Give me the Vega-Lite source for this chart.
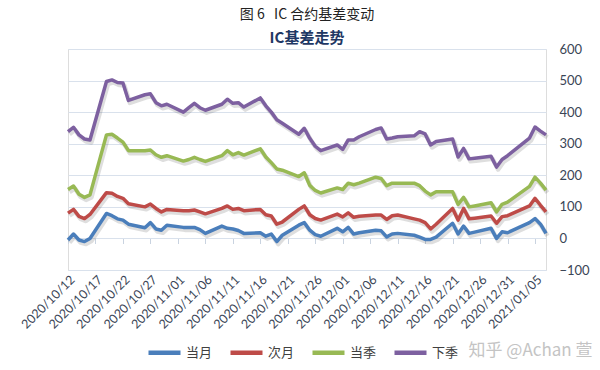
{
  "$schema": "https://vega.github.io/schema/vega-lite/v6.json",
  "width": 478,
  "height": 221,
  "autosize": {"type": "none"},
  "padding": {"left": 68, "top": 49, "right": 54, "bottom": 100},
  "background": "white",
  "title": {
    "text": "图 6\u00a0\u00a0 IC 合约基差变动",
    "subtitle": "IC基差走势",
    "anchor": "middle",
    "frame": "group",
    "offset": -3,
    "font": "Noto Sans CJK SC",
    "fontSize": 14,
    "fontWeight": "normal",
    "color": "#222222",
    "subtitleFont": "Noto Sans CJK SC",
    "subtitleFontSize": 15,
    "subtitleFontWeight": "bold",
    "subtitleColor": "#1F3864",
    "subtitlePadding": 9
  },
  "data": {
    "format": {"parse": {"date": "date:'%Y/%m/%d'"}},
    "values": [
      {"date": "2020/10/12", "当月": -5, "次月": 80, "当季": 155, "下季": 338},
      {"date": "2020/10/13", "当月": 14, "次月": 92, "当季": 166, "下季": 352},
      {"date": "2020/10/14", "当月": -5, "次月": 70, "当季": 140, "下季": 328},
      {"date": "2020/10/15", "当月": -10, "次月": 63, "当季": 130, "下季": 315},
      {"date": "2020/10/16", "当月": 0, "次月": 76, "当季": 138, "下季": 312},
      {"date": "2020/10/19", "当月": 79, "次月": 145, "当季": 328, "下季": 497},
      {"date": "2020/10/20", "当月": 72, "次月": 143, "当季": 330, "下季": 502},
      {"date": "2020/10/21", "当月": 62, "次月": 133, "当季": 318, "下季": 494},
      {"date": "2020/10/22", "当月": 58, "次月": 127, "当季": 305, "下季": 492},
      {"date": "2020/10/23", "当月": 45, "次月": 110, "当季": 278, "下季": 437},
      {"date": "2020/10/26", "当月": 34, "次月": 100, "当季": 278, "下季": 455},
      {"date": "2020/10/27", "当月": 50, "次月": 109, "当季": 280, "下季": 458},
      {"date": "2020/10/28", "当月": 30, "次月": 95, "当季": 265, "下季": 430},
      {"date": "2020/10/29", "当月": 26, "次月": 84, "当季": 257, "下季": 420},
      {"date": "2020/10/30", "当月": 42, "次月": 92, "当季": 262, "下季": 425},
      {"date": "2020/11/02", "当月": 35, "次月": 88, "当季": 245, "下季": 400},
      {"date": "2020/11/03", "当月": 35, "次月": 88, "当季": 250, "下季": 414},
      {"date": "2020/11/04", "当月": 35, "次月": 90, "当季": 257, "下季": 428},
      {"date": "2020/11/05", "当月": 28, "次月": 84, "当季": 250, "下季": 414},
      {"date": "2020/11/06", "当月": 16, "次月": 78, "当季": 244, "下季": 406},
      {"date": "2020/11/09", "当月": 39, "次月": 95, "当季": 262, "下季": 425},
      {"date": "2020/11/10", "当月": 32, "次月": 103, "当季": 278, "下季": 441},
      {"date": "2020/11/11", "当月": 30, "次月": 92, "当季": 265, "下季": 428},
      {"date": "2020/11/12", "当月": 25, "次月": 95, "当季": 272, "下季": 430},
      {"date": "2020/11/13", "当月": 16, "次月": 88, "当季": 264, "下季": 416},
      {"date": "2020/11/16", "当月": 18, "次月": 92, "当季": 284, "下季": 445},
      {"date": "2020/11/17", "当月": 7, "次月": 75, "当季": 258, "下季": 420},
      {"date": "2020/11/18", "当月": 14, "次月": 71, "当季": 240, "下季": 400},
      {"date": "2020/11/19", "当月": -10, "次月": 45, "当季": 220, "下季": 376},
      {"date": "2020/11/20", "当月": 10, "次月": 52, "当季": 216, "下季": 365},
      {"date": "2020/11/23", "当月": 42, "次月": 92, "当季": 196, "下季": 330},
      {"date": "2020/11/24", "当月": 50, "次月": 103, "当季": 208, "下季": 349},
      {"date": "2020/11/25", "当月": 26, "次月": 75, "当季": 168, "下季": 317},
      {"date": "2020/11/26", "当月": 12, "次月": 63, "当季": 152, "下季": 292},
      {"date": "2020/11/27", "当月": 7, "次月": 58, "当季": 144, "下季": 278},
      {"date": "2020/11/30", "当月": 32, "次月": 77, "当季": 160, "下季": 296},
      {"date": "2020/12/01", "当月": 21, "次月": 68, "当季": 155, "下季": 282},
      {"date": "2020/12/02", "当月": 35, "次月": 81, "当季": 175, "下季": 312},
      {"date": "2020/12/03", "当月": 14, "次月": 67, "当季": 170, "下季": 312},
      {"date": "2020/12/04", "当月": 18, "次月": 70, "当季": 175, "下季": 322},
      {"date": "2020/12/07", "当月": 26, "次月": 74, "当季": 194, "下季": 345},
      {"date": "2020/12/08", "当月": 24, "次月": 74, "当季": 190, "下季": 350},
      {"date": "2020/12/09", "当月": 5, "次月": 60, "当季": 167, "下季": 315},
      {"date": "2020/12/10", "当月": 14, "次月": 72, "当季": 175, "下季": 318},
      {"date": "2020/12/11", "当月": 16, "次月": 74, "当季": 175, "下季": 322},
      {"date": "2020/12/14", "当月": 10, "次月": 62, "当季": 175, "下季": 325},
      {"date": "2020/12/15", "当月": 4, "次月": 58, "当季": 167, "下季": 338},
      {"date": "2020/12/16", "当月": -3, "次月": 50, "当季": 150, "下季": 331},
      {"date": "2020/12/17", "当月": -3, "次月": 30, "当季": 138, "下季": 296},
      {"date": "2020/12/18", "当月": 4, "次月": 45, "当季": 148, "下季": 307},
      {"date": "2020/12/21", "当月": 48, "次月": 95, "当季": 148, "下季": 315},
      {"date": "2020/12/22", "当月": 14, "次月": 58, "当季": 108, "下季": 258},
      {"date": "2020/12/23", "当月": 39, "次月": 95, "当季": 130, "下季": 285},
      {"date": "2020/12/24", "当月": 16, "次月": 62, "当季": 100, "下季": 252},
      {"date": "2020/12/25", "当月": 20, "次月": 64, "当季": 103, "下季": 254},
      {"date": "2020/12/28", "当月": 32, "次月": 71, "当季": 113, "下季": 260},
      {"date": "2020/12/29", "当月": 0, "次月": 48, "当季": 84, "下季": 226},
      {"date": "2020/12/30", "当月": 21, "次月": 69, "当季": 108, "下季": 250},
      {"date": "2020/12/31", "当月": 18, "次月": 72, "当季": 115, "下季": 262},
      {"date": "2021/01/04", "当月": 50, "次月": 103, "当季": 165, "下季": 318},
      {"date": "2021/01/05", "当月": 63, "次月": 127, "当季": 194, "下季": 353},
      {"date": "2021/01/06", "当月": 45, "次月": 105, "当季": 175, "下季": 340},
      {"date": "2021/01/07", "当月": 16, "次月": 84, "当季": 153, "下季": 328}
    ]
  },
  "transform": [{"fold": ["当月", "次月", "当季", "下季"], "as": ["series", "value"]}],
  "encoding": {
    "y": {
      "field": "value",
      "type": "quantitative",
      "scale": {"domain": [-100, 600], "nice": false, "zero": false},
      "axis": {
        "orient": "right",
        "values": [-100, 0, 100, 200, 300, 400, 500, 600],
        "grid": true,
        "gridColor": "#D9E1EC",
        "gridWidth": 1,
        "ticks": false,
        "domain": false,
        "labelAlign": "left",
        "labelPadding": 13,
        "labelFont": "Lato",
        "labelFontSize": 13,
        "labelColor": "#3A4556",
        "title": null
      }
    }
  },
  "layer": [
    {
      "mark": {"type": "line", "stroke": "#000000", "strokeOpacity": 0.13, "strokeWidth": 4.5, "xOffset": 1.5, "yOffset": 2.5, "strokeJoin": "round"},
      "encoding": {
        "x": {
          "field": "date",
          "type": "temporal",
          "scale": {"domain": [{"year": 2020, "month": 10, "date": 12}, {"year": 2021, "month": 1, "date": 7}]},
          "axis": {
            "orient": "bottom",
            "offset": -31.5,
            "labels": false,
            "domain": false,
            "grid": false,
            "ticks": true,
            "tickSize": 5,
            "tickColor": "#C9D3E0",
            "title": null,
            "values": [
              {"year": 2020, "month": 10, "date": 12}, {"year": 2020, "month": 10, "date": 17},
              {"year": 2020, "month": 10, "date": 22}, {"year": 2020, "month": 10, "date": 27},
              {"year": 2020, "month": 11, "date": 1}, {"year": 2020, "month": 11, "date": 6},
              {"year": 2020, "month": 11, "date": 11}, {"year": 2020, "month": 11, "date": 16},
              {"year": 2020, "month": 11, "date": 21}, {"year": 2020, "month": 11, "date": 26},
              {"year": 2020, "month": 12, "date": 1}, {"year": 2020, "month": 12, "date": 6},
              {"year": 2020, "month": 12, "date": 11}, {"year": 2020, "month": 12, "date": 16},
              {"year": 2020, "month": 12, "date": 21}, {"year": 2020, "month": 12, "date": 26},
              {"year": 2020, "month": 12, "date": 31}, {"year": 2021, "month": 1, "date": 5}
            ]
          }
        },
        "detail": {"field": "series"}
      }
    },
    {
      "mark": {"type": "line", "strokeWidth": 3.5, "strokeJoin": "round"},
      "encoding": {
        "x": {
          "field": "date",
          "type": "temporal",
          "axis": {
            "orient": "bottom",
            "format": "%Y/%m/%d",
            "labelAngle": -45,
            "labelAlign": "right",
            "labelBaseline": "top",
            "labelPadding": 3,
            "labelFont": "Lato",
            "labelFontSize": 12.5,
            "labelColor": "#3A4556",
            "labelOverlap": false,
            "ticks": false,
            "domain": false,
            "grid": false,
            "title": "知乎 @Achan 萱",
            "titleFont": "Noto Sans CJK SC",
            "titleFontSize": 17,
            "titleFontWeight": "normal",
            "titleColor": "#C4C4C4",
            "titleAnchor": "end",
            "titleAlign": "right",
            "titleBaseline": "middle",
            "titleX": 524,
            "titleY": 80,
            "values": [
              {"year": 2020, "month": 10, "date": 12}, {"year": 2020, "month": 10, "date": 17},
              {"year": 2020, "month": 10, "date": 22}, {"year": 2020, "month": 10, "date": 27},
              {"year": 2020, "month": 11, "date": 1}, {"year": 2020, "month": 11, "date": 6},
              {"year": 2020, "month": 11, "date": 11}, {"year": 2020, "month": 11, "date": 16},
              {"year": 2020, "month": 11, "date": 21}, {"year": 2020, "month": 11, "date": 26},
              {"year": 2020, "month": 12, "date": 1}, {"year": 2020, "month": 12, "date": 6},
              {"year": 2020, "month": 12, "date": 11}, {"year": 2020, "month": 12, "date": 16},
              {"year": 2020, "month": 12, "date": 21}, {"year": 2020, "month": 12, "date": 26},
              {"year": 2020, "month": 12, "date": 31}, {"year": 2021, "month": 1, "date": 5}
            ]
          }
        },
        "color": {
          "field": "series",
          "type": "nominal",
          "scale": {"domain": ["当月", "次月", "当季", "下季"], "range": ["#4A7EBB", "#BE4B48", "#98B954", "#7D60A0"]},
          "legend": {
            "orient": "none",
            "legendX": 78,
            "legendY": 285,
            "direction": "horizontal",
            "title": null,
            "symbolType": "stroke",
            "symbolSize": 1024,
            "symbolStrokeWidth": 4.5,
            "labelFont": "Noto Sans CJK SC",
            "labelFontSize": 13,
            "labelColor": "#404040",
            "labelOffset": 3,
            "columnPadding": 8
          }
        }
      }
    }
  ],
  "resolve": {"axis": {"x": "independent"}}
}
